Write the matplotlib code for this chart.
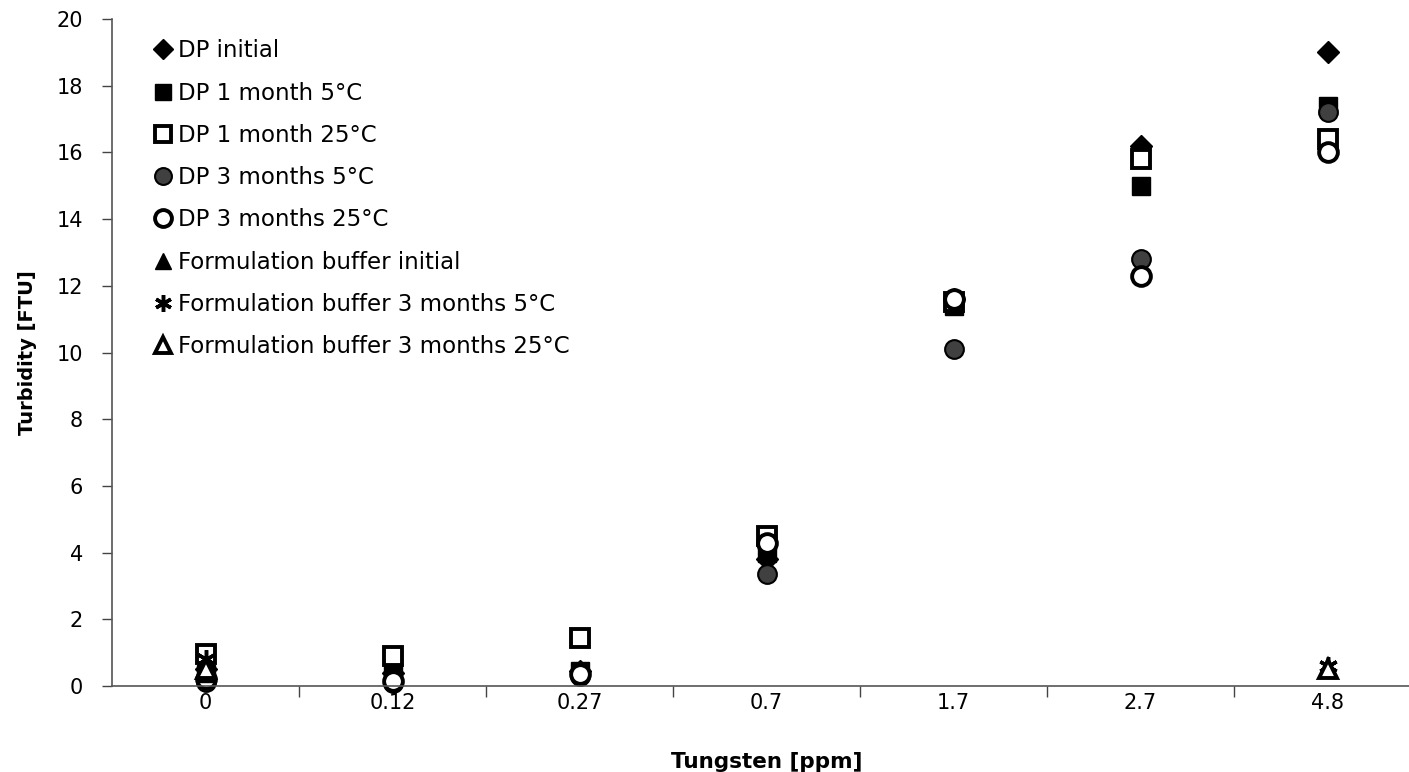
import matplotlib.pyplot as plt
import numpy as np

plt.rcParams['font.family'] = ['DejaVu Sans']

# Kategorien (Tungsten in ppm)
categories = ['0', '0.12', '0.27', '0.7', '1.7', '2.7', '4.8']

# Turbidity-Werte je Serie (FTU)
dp_initial = [0.5, 0.4, 0.45, 3.8, 11.6, 16.2, 19.0]
dp_1m_5 = [0.35, 0.45, 0.45, 4.0, 11.4, 15.0, 17.4]
dp_1m_25 = [0.95, 0.9, 1.45, 4.5, 11.5, 15.8, 16.4]
dp_3m_5 = [0.12, 0.1, 0.3, 3.35, 10.1, 12.8, 17.2]
dp_3m_25 = [0.2, 0.15, 0.35, 4.3, 11.6, 12.3, 16.0]
fb_cats = ['0', '4.8']
fb_initial = [0.4, 0.55]
fb_3m_5 = [0.8, 0.6]
fb_3m_25 = [0.5, 0.5]

x = np.arange(len(categories))
x_fb = [categories.index(c) for c in fb_cats]

fig = plt.figure(figsize=(14.09, 7.72), dpi=100)
ax = fig.add_axes([112 / 1409, 86 / 772, 1309 / 1409, 667 / 772])

ms = 13.5
series = [
    (x, dp_initial, dict(marker='D', color='black', markersize=ms * 0.8), 'DP initial'),
    (x, dp_1m_5, dict(marker='s', color='black', markersize=ms), 'DP 1 month 5°C'),
    (x, dp_1m_25, dict(marker='s', markerfacecolor='white', markeredgecolor='black',
                       markeredgewidth=2.8, markersize=ms), 'DP 1 month 25°C'),
    (x, dp_3m_5, dict(marker='o', markerfacecolor='#404040', markeredgecolor='black',
                      markeredgewidth=1.5, markersize=ms), 'DP 3 months 5°C'),
    (x, dp_3m_25, dict(marker='o', markerfacecolor='white', markeredgecolor='black',
                       markeredgewidth=2.8, markersize=ms), 'DP 3 months 25°C'),
    (x_fb, fb_initial, dict(marker='^', color='black', markersize=ms), 'Formulation buffer initial'),
    (x_fb, fb_3m_5, dict(marker=(6, 2, 0), color='black', markeredgewidth=2.5,
                         markersize=ms), 'Formulation buffer 3 months 5°C'),
    (x_fb, fb_3m_25, dict(marker='^', markerfacecolor='white', markeredgecolor='black',
                          markeredgewidth=2.8, markersize=ms), 'Formulation buffer 3 months 25°C'),
]

for xs, ys, style, label in series:
    ax.plot(xs, ys, linestyle='none', label=label, clip_on=False, **style)

ax.set_xlim(-0.5, 6.5)
ax.set_ylim(0, 20)
ax.set_yticks(np.arange(0, 21, 2))
ax.set_xticks(x)
ax.set_xticklabels(categories)
ax.set_xticks(np.arange(0.5, 6.5, 1), minor=True)
ax.tick_params(axis='x', which='major', length=0, pad=5, labelsize=15)
ax.tick_params(axis='x', which='minor', length=8, width=1, color='#444444')
ax.tick_params(axis='y', length=7, width=1, color='#444444', labelsize=15, pad=14)

for side in ['top', 'right']:
    ax.spines[side].set_visible(False)
for side in ['left', 'bottom']:
    ax.spines[side].set_color('#555555')
    ax.spines[side].set_linewidth(1.2)

ax.set_xlabel('Tungsten [ppm]', fontsize=15.5, fontweight='bold', labelpad=28)
ax.set_ylabel('Turbidity [FTU]', fontsize=14, fontweight='bold', labelpad=14)

ax.legend(loc='upper left', bbox_to_anchor=(0.02, 0.99), frameon=False, fontsize=16.5,
          handletextpad=0.15, handlelength=1.0, labelspacing=0.84, borderaxespad=0.2,
          markerscale=0.9)

fig.savefig('out.png', dpi=100)
